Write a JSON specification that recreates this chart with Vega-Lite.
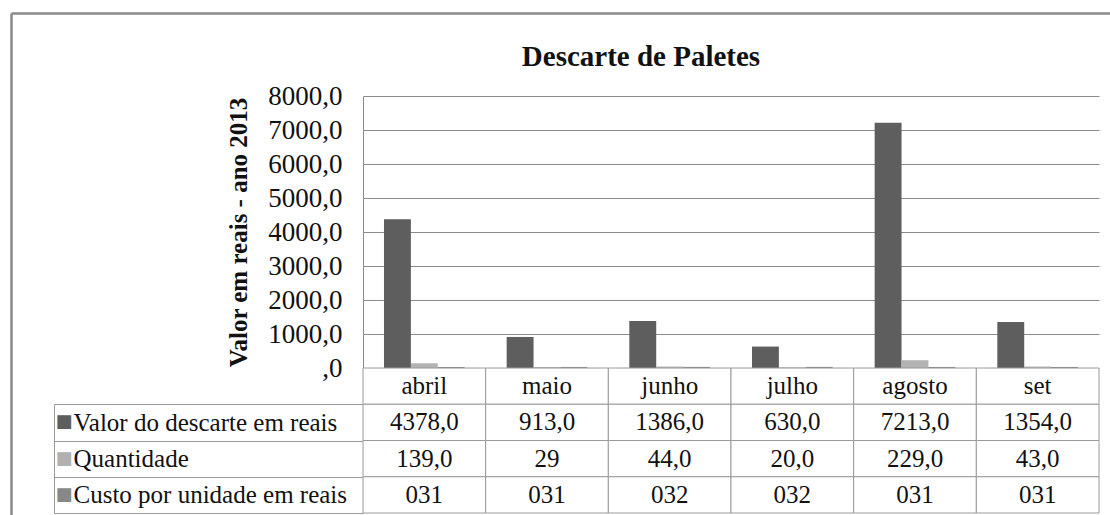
{
  "$schema": "https://vega.github.io/schema/vega-lite/v6.json",
  "width": 736,
  "height": 417,
  "autosize": {"type": "none"},
  "padding": {"left": 363, "top": 96, "right": 11, "bottom": 2},
  "background": "white",
  "config": {"view": {"stroke": null}, "font": "Times New Roman, Liberation Serif, Tinos, DejaVu Serif, serif"},
  "datasets": {
    "heading": [{"title": "Descarte de Paletes"}],
    "bars": [
      {"month": "abril", "series": "Valor do descarte em reais", "value": 4378},
      {"month": "abril", "series": "Quantidade", "value": 139},
      {"month": "abril", "series": "Custo por unidade em reais", "value": 31},
      {"month": "maio", "series": "Valor do descarte em reais", "value": 913},
      {"month": "maio", "series": "Quantidade", "value": 29},
      {"month": "maio", "series": "Custo por unidade em reais", "value": 31},
      {"month": "junho", "series": "Valor do descarte em reais", "value": 1386},
      {"month": "junho", "series": "Quantidade", "value": 44},
      {"month": "junho", "series": "Custo por unidade em reais", "value": 32},
      {"month": "julho", "series": "Valor do descarte em reais", "value": 630},
      {"month": "julho", "series": "Quantidade", "value": 20},
      {"month": "julho", "series": "Custo por unidade em reais", "value": 32},
      {"month": "agosto", "series": "Valor do descarte em reais", "value": 7213},
      {"month": "agosto", "series": "Quantidade", "value": 229},
      {"month": "agosto", "series": "Custo por unidade em reais", "value": 31},
      {"month": "set", "series": "Valor do descarte em reais", "value": 1354},
      {"month": "set", "series": "Quantidade", "value": 43},
      {"month": "set", "series": "Custo por unidade em reais", "value": 31}
    ],
    "table": [
      {"month": "abril", "row": "header", "label": "abril"},
      {"month": "maio", "row": "header", "label": "maio"},
      {"month": "junho", "row": "header", "label": "junho"},
      {"month": "julho", "row": "header", "label": "julho"},
      {"month": "agosto", "row": "header", "label": "agosto"},
      {"month": "set", "row": "header", "label": "set"},
      {"month": "abril", "row": "Valor do descarte em reais", "label": "4378,0"},
      {"month": "maio", "row": "Valor do descarte em reais", "label": "913,0"},
      {"month": "junho", "row": "Valor do descarte em reais", "label": "1386,0"},
      {"month": "julho", "row": "Valor do descarte em reais", "label": "630,0"},
      {"month": "agosto", "row": "Valor do descarte em reais", "label": "7213,0"},
      {"month": "set", "row": "Valor do descarte em reais", "label": "1354,0"},
      {"month": "abril", "row": "Quantidade", "label": "139,0"},
      {"month": "maio", "row": "Quantidade", "label": "29"},
      {"month": "junho", "row": "Quantidade", "label": "44,0"},
      {"month": "julho", "row": "Quantidade", "label": "20,0"},
      {"month": "agosto", "row": "Quantidade", "label": "229,0"},
      {"month": "set", "row": "Quantidade", "label": "43,0"},
      {"month": "abril", "row": "Custo por unidade em reais", "label": "031"},
      {"month": "maio", "row": "Custo por unidade em reais", "label": "031"},
      {"month": "junho", "row": "Custo por unidade em reais", "label": "032"},
      {"month": "julho", "row": "Custo por unidade em reais", "label": "032"},
      {"month": "agosto", "row": "Custo por unidade em reais", "label": "031"},
      {"month": "set", "row": "Custo por unidade em reais", "label": "031"}
    ]
  },
  "layer": [
    {
      "data": {"name": "heading"},
      "mark": {"type": "text", "font": "Times New Roman, Liberation Serif, Tinos, DejaVu Serif, serif", "fontSize": 29, "fontWeight": "bold", "color": "#111111", "baseline": "middle", "align": "center"},
      "encoding": {
        "x": {
          "field": "title",
          "type": "nominal",
          "scale": {"type": "band", "range": [-352, 908], "paddingInner": 0, "paddingOuter": 0},
          "axis": {"orient": "top", "offset": 83, "domain": true, "domainColor": "#8a8a8a", "domainWidth": 2.5, "ticks": false, "labels": false, "grid": false, "title": null}
        },
        "y": {
          "field": "title",
          "type": "nominal",
          "scale": {"type": "band", "range": [-83, 419], "paddingInner": 0.575, "paddingOuter": 1, "align": 0},
          "axis": {"orient": "left", "offset": 352, "domain": true, "domainColor": "#8a8a8a", "domainWidth": 2.5, "ticks": false, "labels": false, "grid": false, "title": null}
        },
        "text": {"field": "title"}
      }
    },
    {
      "data": {"name": "bars"},
      "mark": {"type": "bar"},
      "encoding": {
        "x": {
          "field": "month",
          "type": "nominal",
          "sort": ["abril", "maio", "junho", "julho", "agosto", "set"],
          "scale": {"type": "band", "paddingInner": 0, "paddingOuter": 0},
          "axis": null
        },
        "xOffset": {
          "field": "series",
          "type": "nominal",
          "sort": ["Valor do descarte em reais", "Quantidade", "Custo por unidade em reais"],
          "scale": {"paddingInner": 0, "paddingOuter": 0.78}
        },
        "y": {
          "field": "value",
          "type": "quantitative",
          "scale": {"domain": [0, 8000], "range": [272, 0], "nice": false, "zero": true},
          "axis": {
            "orient": "left",
            "values": [0, 1000, 2000, 3000, 4000, 5000, 6000, 7000, 8000],
            "labelExpr": "datum.value === 0 ? ',0' : replace(format(datum.value, '.1f'), '.', ',')",
            "labelFont": "Times New Roman, Liberation Serif, Tinos, DejaVu Serif, serif",
            "labelFontSize": 27,
            "labelColor": "#111111",
            "labelPadding": 21,
            "ticks": false,
            "domain": true,
            "domainColor": "#8c8c8c",
            "grid": true,
            "gridColor": "#8c8c8c",
            "gridWidth": 1,
            "title": "Valor em reais - ano 2013",
            "titleFont": "Times New Roman, Liberation Serif, Tinos, DejaVu Serif, serif",
            "titleFontSize": 25,
            "titleFontWeight": "bold",
            "titleColor": "#111111",
            "titlePadding": 16
          }
        },
        "color": {
          "field": "series",
          "type": "nominal",
          "scale": {
            "domain": ["Valor do descarte em reais", "Quantidade", "Custo por unidade em reais"],
            "range": ["#5e5e5e", "#b3b3b3", "#838383"]
          },
          "legend": null
        }
      }
    },
    {
      "data": {"name": "table"},
      "encoding": {
        "x": {
          "field": "month",
          "type": "nominal",
          "sort": ["abril", "maio", "junho", "julho", "agosto", "set"],
          "scale": {"type": "band", "paddingInner": 0, "paddingOuter": 0},
          "axis": null
        },
        "y": {
          "field": "row",
          "type": "nominal",
          "sort": ["header", "Valor do descarte em reais", "Quantidade", "Custo por unidade em reais"],
          "scale": {"range": [272, 417], "paddingInner": 0, "paddingOuter": 0},
          "axis": {
            "orient": "left",
            "values": ["Valor do descarte em reais", "Quantidade", "Custo por unidade em reais"],
            "ticks": false,
            "domain": false,
            "grid": false,
            "labelExpr": "'■'",
            "labelAlign": "left",
            "labelPadding": 308,
            "labelFont": "DejaVu Sans",
            "labelFontSize": 18,
            "labelColor": {
              "condition": [
                {"test": "datum.value === 'Quantidade'", "value": "#b0b0b0"},
                {"test": "datum.value === 'Custo por unidade em reais'", "value": "#888888"}
              ],
              "value": "#5e5e5e"
            },
            "title": null
          }
        }
      },
      "layer": [
        {
          "mark": {"type": "rect", "fill": "white", "stroke": "#9a9a9a", "strokeWidth": 1}
        },
        {
          "transform": [{"filter": "datum.row === 'header'"}],
          "mark": {"type": "text", "font": "Times New Roman, Liberation Serif, Tinos, DejaVu Serif, serif", "fontSize": 25, "color": "#111111", "baseline": "middle"},
          "encoding": {"text": {"field": "label"}}
        }
      ]
    },
    {
      "data": {"name": "table"},
      "transform": [{"filter": "datum.row !== 'header'"}],
      "mark": {"type": "text", "font": "Times New Roman, Liberation Serif, Tinos, DejaVu Serif, serif", "fontSize": 25, "color": "#111111", "baseline": "middle"},
      "encoding": {
        "x": {
          "field": "month",
          "type": "nominal",
          "sort": ["abril", "maio", "junho", "julho", "agosto", "set"],
          "scale": {"type": "band", "paddingInner": 0, "paddingOuter": 0},
          "axis": null
        },
        "y": {
          "field": "row",
          "type": "nominal",
          "sort": ["Valor do descarte em reais", "Quantidade", "Custo por unidade em reais"],
          "scale": {"range": [308.25, 417], "paddingInner": 0, "paddingOuter": 0},
          "axis": {
            "orient": "left",
            "offset": 309,
            "domain": true,
            "domainColor": "#9a9a9a",
            "ticks": true,
            "tickSize": -309,
            "tickBand": "extent",
            "tickColor": "#9a9a9a",
            "grid": false,
            "labelAlign": "left",
            "labelPadding": 290,
            "labelLimit": 400,
            "labelFont": "Times New Roman, Liberation Serif, Tinos, DejaVu Serif, serif",
            "labelFontSize": 25,
            "labelColor": "#111111",
            "title": null
          }
        },
        "text": {"field": "label"}
      }
    }
  ],
  "resolve": {"scale": {"x": "independent", "y": "independent"}}
}
